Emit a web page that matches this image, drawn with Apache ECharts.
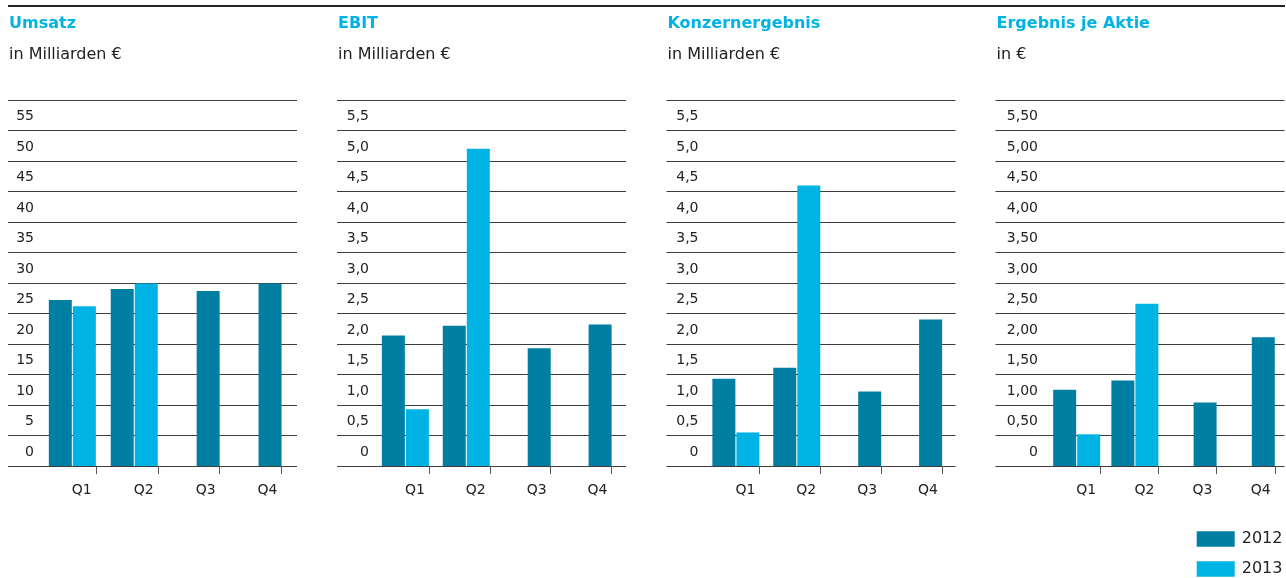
<!DOCTYPE html>
<html>
<head>
<meta charset="utf-8">
<script src="https://cdn.jsdelivr.net/npm/echarts@6/dist/echarts.min.js"></script>
<style>
  html, body { margin: 0; padding: 0; background: #fff; }
  #chart { width: 1286px; height: 578px; }
</style>
</head>
<body>
<div id="chart"></div>
<script>
// Quartale
var quarters = ['Q1', 'Q2', 'Q3', 'Q4']

// Umsatz, in Milliarden €
var umsatz2012 = [27.2, 29.0, 28.7, 29.9]
var umsatz2013 = [26.2, 29.9, null, null]
// EBIT, in Milliarden €
var ebit2012 = [2.14, 2.30, 1.93, 2.32]
var ebit2013 = [0.93, 5.20, null, null]
// Konzernergebnis, in Milliarden €
var konzern2012 = [1.43, 1.61, 1.22, 2.40]
var konzern2013 = [0.55, 4.60, null, null]
// Ergebnis je Aktie, in €
var eps2012 = [1.25, 1.40, 1.04, 2.11]
var eps2013 = [0.52, 2.66, null, null]

var panelTitles = ['Umsatz', 'EBIT', 'Konzernergebnis', 'Ergebnis je Aktie']
var panelUnits = ['in Milliarden €', 'in Milliarden €', 'in Milliarden €', 'in €']
var axisMax = [60, 6, 6, 6]
var axisStep = [5, 0.5, 0.5, 0.5]
var labelDecimals = [0, 1, 1, 2]
var years = ['2012', '2013']

var values2012 = [umsatz2012, ebit2012, konzern2012, eps2012]
var values2013 = [umsatz2013, ebit2013, konzern2013, eps2013]

// Layout je Panel
var panelLeft = [8, 337, 666.5, 995.5]
var panelWidth = 289
var labelRight = [26, 32, 32, 42.5]
var barAxisLeft = [33.95, 368, 698.5, 1042]
var barBand = [61.9, 60.9, 60.9, 58.2]
var gridTop = 100
var gridHeight = 366
var barW = 23
var gapRatio = 0.045

var colorDark = '#007fa3'
var colorLight = '#00b3e5'
var textColor = '#222'
var font = 'DejaVu Sans'

var chart = echarts.init(document.getElementById('chart'))

var grids = []
var xAxes = []
var yAxes = []
var series = []
var titles = []

panelTitles.forEach(function (name, i) {
  var dec = labelDecimals[i]
  titles.push({
    text: name,
    subtext: panelUnits[i],
    left: panelLeft[i] + 1,
    top: 16,
    padding: 0,
    itemGap: 15,
    textStyle: { fontFamily: font, fontSize: 16, fontWeight: 'bold', color: colorLight, lineHeight: 16 },
    subtextStyle: { fontFamily: font, fontSize: 16, color: textColor, lineHeight: 16 }
  })

  // Raster + Achsenbeschriftung
  grids.push({ left: panelLeft[i], width: panelWidth, top: gridTop, height: gridHeight })
  xAxes.push({ type: 'value', gridIndex: 2 * i, show: false, min: 0, max: 1 })
  yAxes.push({
    type: 'value',
    gridIndex: 2 * i,
    min: 0,
    max: axisMax[i],
    interval: axisStep[i],
    axisLine: { show: false },
    axisTick: { show: false },
    splitLine: { show: true, lineStyle: { color: '#3c3c3c', width: 1 } },
    axisLabel: {
      inside: true,
      align: 'right',
      verticalAlign: 'bottom',
      lineHeight: 28,
      margin: labelRight[i],
      fontFamily: font,
      fontSize: 14,
      color: textColor,
      showMaxLabel: false,
      formatter: function (v) {
        return v === 0 ? '0' : v.toFixed(dec).replace('.', ',')
      }
    }
  })

  // Balken
  var band = barBand[i]
  grids.push({ left: barAxisLeft[i], width: band * 4, top: gridTop, height: gridHeight })
  xAxes.push({
    type: 'category',
    gridIndex: 2 * i + 1,
    data: quarters,
    offset: 5,
    axisLine: { show: false },
    axisTick: {
      show: true,
      length: 8,
      interval: function (idx) { return idx > 0 },
      lineStyle: { color: '#555', width: 1 }
    },
    axisLabel: {
      margin: 12,
      align: 'left',
      padding: [0, 0, 0, band / 2 - 24],
      fontFamily: font,
      fontSize: 14,
      lineHeight: 14,
      color: textColor
    }
  })
  yAxes.push({ type: 'value', gridIndex: 2 * i + 1, min: 0, max: axisMax[i], show: false, splitLine: { show: false } })

  var v12 = values2012[i]
  var v13 = values2013[i]
  // ohne 2013-Wert rückt der 2012-Balken in die rechte Position
  var early2012 = v12.map(function (v, k) { return v13[k] == null ? null : v })
  var late2012 = v12.map(function (v, k) { return v13[k] == null ? v : null })
  var padW = (band - barW - barW * (1 + gapRatio)) / (1 + gapRatio)

  series.push({
    name: 'pad', type: 'bar', xAxisIndex: 2 * i + 1, yAxisIndex: 2 * i + 1,
    stack: 'pad' + i, barWidth: padW, barGap: (gapRatio * 100) + '%',
    data: [null, null, null, null], itemStyle: { color: 'transparent' }, silent: true
  })
  series.push({
    name: '2012', type: 'bar', xAxisIndex: 2 * i + 1, yAxisIndex: 2 * i + 1,
    stack: 'a' + i, barWidth: barW, barGap: (gapRatio * 100) + '%',
    data: early2012, itemStyle: { color: colorDark }
  })
  series.push({
    name: '2013', type: 'bar', xAxisIndex: 2 * i + 1, yAxisIndex: 2 * i + 1,
    stack: 'b' + i, barWidth: barW, barGap: (gapRatio * 100) + '%',
    data: v13, itemStyle: { color: colorLight }
  })
  series.push({
    name: '2012', type: 'bar', xAxisIndex: 2 * i + 1, yAxisIndex: 2 * i + 1,
    stack: 'b' + i, barWidth: barW, barGap: (gapRatio * 100) + '%',
    data: late2012, itemStyle: { color: colorDark }
  })
})

chart.setOption({
  animation: false,
  title: titles,
  legend: {
    data: years,
    orient: 'vertical',
    left: 1196.7,
    top: 531,
    padding: 0,
    itemWidth: 38,
    itemHeight: 15.5,
    itemGap: 14,
    icon: 'rect',
    selectedMode: false,
    textStyle: { fontFamily: font, fontSize: 16, color: textColor, padding: [0, 0, 0, 2] }
  },
  graphic: [{
    type: 'line',
    shape: { x1: 8, y1: 6, x2: 1285, y2: 6 },
    style: { stroke: '#222', lineWidth: 2 }
  }],
  grid: grids,
  xAxis: xAxes,
  yAxis: yAxes,
  series: series
})
</script>
</body>
</html>
